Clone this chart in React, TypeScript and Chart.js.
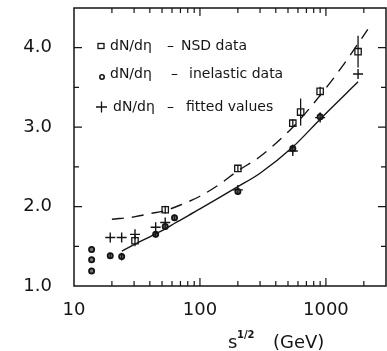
import React, { useEffect, useRef } from "react";
import { Chart, registerables } from "chart.js";

Chart.register(...registerables);

// NSD data (squares)
const nsdEnergy = [30.5, 53, 200, 546, 630, 900, 1800];
const nsdValue = [1.57, 1.96, 2.48, 3.05, 3.19, 3.45, 3.95];
const nsdError = [0.07, 0.05, 0.04, 0.05, 0.17, 0.06, 0.2];

// inelastic data (circles)
const inelEnergy = [13.8, 13.8, 13.8, 19.4, 23.9, 44.5, 53, 62.8, 200, 546, 900];
const inelValue = [1.46, 1.33, 1.19, 1.38, 1.37, 1.65, 1.75, 1.86, 2.19, 2.73, 3.13];
const inelError = [0, 0, 0, 0.04, 0.05, 0.04, 0.04, 0.04, 0.04, 0.05, 0.05];

// fitted values (plus signs)
const fitEnergy = [19.4, 23.9, 30.5, 44.5, 53, 200, 546, 900, 1800];
const fitValue = [1.61, 1.61, 1.65, 1.74, 1.8, 2.21, 2.7, 3.12, 3.67];

// solid curve
const solidEnergy = [24, 30, 40, 53, 63, 100, 200, 300, 546, 900, 1800];
const solidValue = [1.44, 1.52, 1.62, 1.72, 1.79, 1.97, 2.25, 2.42, 2.75, 3.1, 3.57];

// dashed curve
const dashedEnergy = [20, 30, 40, 53, 70, 100, 140, 200, 300, 546, 900, 1400, 2150];
const dashedValue = [1.84, 1.87, 1.91, 1.95, 2.02, 2.13, 2.27, 2.45, 2.63, 3.0, 3.4, 3.8, 4.23];

const xTickLabels = [10, 100, 1000];
const yTickLabels = [1, 2, 3, 4];

const legendMarks = ["square", "circle", "plus"];
const legendLeft = ["dN/d\u03b7", "dN/d\u03b7", "dN/d\u03b7"];
const legendRight = ["NSD data", "inelastic data", "fitted values"];

const xTitleMain = "s";
const xTitleSup = "1/2";
const xTitleUnit = "(GeV)";

const FONT = '"DejaVu Sans", "Liberation Sans", sans-serif';
const INK = "#151515";

const pairs = (xs: number[], ys: number[]) => xs.map((x, i) => ({ x, y: ys[i] }));

const isIntMultiple = (v: number) => {
  const p = Math.pow(10, Math.floor(Math.log10(v) + 1e-9));
  const r = v / p;
  return Math.abs(r - Math.round(r)) < 1e-6;
};

const framePlugin = {
  id: "frameTicks",
  afterDraw(chart: any) {
    const { ctx, chartArea: a, scales } = chart;
    const xs = scales.x;
    const ys = scales.y;
    ctx.save();
    ctx.strokeStyle = INK;
    ctx.lineWidth = 1.5;
    ctx.strokeRect(a.left, a.top, a.right - a.left, a.bottom - a.top);
    ctx.lineWidth = 1.2;
    ctx.beginPath();
    xs.ticks.forEach((t: any) => {
      const v = t.value;
      if (!isIntMultiple(v)) return;
      const px = xs.getPixelForValue(v);
      if (px <= a.left + 1 || px >= a.right - 1) return;
      const len = xTickLabels.includes(v) ? 8 : 5;
      ctx.moveTo(px, a.bottom);
      ctx.lineTo(px, a.bottom - len);
      ctx.moveTo(px, a.top);
      ctx.lineTo(px, a.top + len);
    });
    ys.ticks.forEach((t: any) => {
      const v = t.value;
      const py = ys.getPixelForValue(v);
      if (py <= a.top + 1 || py >= a.bottom - 1) return;
      const len = yTickLabels.includes(v) ? 8 : 5;
      ctx.moveTo(a.left, py);
      ctx.lineTo(a.left + len, py);
      ctx.moveTo(a.right, py);
      ctx.lineTo(a.right - len, py);
    });
    ctx.stroke();

    // legend
    const rowsY = [a.top + 38, a.top + 66, a.top + 99];
    const markX = a.left + 27;
    const textX = a.left + 36;
    const dashX = a.left + 93;
    const restX = [a.left + 107, a.left + 115, a.left + 112];
    ctx.fillStyle = INK;
    ctx.textBaseline = "middle";
    ctx.font = `14px ${FONT}`;
    legendMarks.forEach((m, i) => {
      const y = rowsY[i];
      ctx.lineWidth = 1.3;
      if (m === "square") {
        ctx.strokeRect(markX - 3, y - 2.5, 6, 5);
      } else if (m === "circle") {
        ctx.beginPath();
        ctx.arc(markX + 1, y + 3, 2.2, 0, Math.PI * 2);
        ctx.lineWidth = 1.6;
        ctx.stroke();
      } else {
        ctx.beginPath();
        ctx.moveTo(markX - 5, y);
        ctx.lineTo(markX + 6, y);
        ctx.moveTo(markX + 0.5, y - 5.5);
        ctx.lineTo(markX + 0.5, y + 5.5);
        ctx.stroke();
      }
      ctx.fillText(legendLeft[i], textX + (m === "plus" ? 3 : 0), y);
      ctx.fillText("\u2013", dashX + (m === "circle" ? 4 : 0), y);
      ctx.fillText(legendRight[i], restX[i], y);
    });

    // x title
    ctx.textBaseline = "alphabetic";
    ctx.font = `18px ${FONT}`;
    ctx.fillText(xTitleMain, 228, 348);
    ctx.font = `bold 10px ${FONT}`;
    ctx.fillText(xTitleSup, 237, 338);
    ctx.font = `18px ${FONT}`;
    ctx.fillText(xTitleUnit, 273, 348);
    ctx.restore();
  },
};

const errorBarPlugin = {
  id: "errorBars",
  afterDatasetsDraw(chart: any) {
    const { ctx, scales } = chart;
    ctx.save();
    ctx.strokeStyle = INK;
    ctx.lineWidth = 1.3;
    chart.data.datasets.forEach((ds: any) => {
      if (!ds.errs) return;
      ds.data.forEach((p: any, i: number) => {
        const e = ds.errs[i];
        if (!e) return;
        const px = scales.x.getPixelForValue(p.x);
        ctx.beginPath();
        ctx.moveTo(px, scales.y.getPixelForValue(p.y - e));
        ctx.lineTo(px, scales.y.getPixelForValue(p.y + e));
        ctx.stroke();
      });
    });
    ctx.restore();
  },
};

export default function App() {
  const ref = useRef<HTMLCanvasElement | null>(null);

  useEffect(() => {
    document.body.style.margin = "0";
    const canvas = ref.current;
    if (!canvas) return;
    const chart = new Chart(canvas, {
      type: "scatter",
      data: {
        datasets: [
          {
            data: pairs(dashedEnergy, dashedValue),
            showLine: true,
            borderColor: INK,
            borderWidth: 1.4,
            borderDash: [12, 8],
            pointRadius: 0,
            cubicInterpolationMode: "monotone",
          },
          {
            data: pairs(solidEnergy, solidValue),
            showLine: true,
            borderColor: INK,
            borderWidth: 1.4,
            pointRadius: 0,
            cubicInterpolationMode: "monotone",
          },
          {
            data: pairs(nsdEnergy, nsdValue),
            errs: nsdError,
            pointStyle: "rect",
            pointRadius: 4.5,
            borderColor: INK,
            backgroundColor: "rgba(255,255,255,0)",
            borderWidth: 1.3,
          } as any,
          {
            data: pairs(inelEnergy, inelValue),
            errs: inelError,
            pointStyle: "circle",
            pointRadius: 2.6,
            borderColor: INK,
            backgroundColor: "#777",
            borderWidth: 1.8,
          } as any,
          {
            data: pairs(fitEnergy, fitValue),
            pointStyle: "cross",
            pointRadius: 5,
            borderColor: INK,
            borderWidth: 1.4,
          },
        ],
      },
      options: {
        responsive: false,
        animation: false,
        devicePixelRatio: 1,
        layout: { autoPadding: false, padding: { top: 8, right: 1, left: 0, bottom: 0 } },
        plugins: { legend: { display: false }, tooltip: { enabled: false } },
        scales: {
          x: {
            type: "logarithmic",
            min: 10,
            max: 3000,
            grid: { display: false, drawTicks: false },
            border: { display: false },
            ticks: {
              autoSkip: false,
              maxRotation: 0,
              color: INK,
              padding: 14,
              font: { family: FONT, size: 18 },
              callback: (v: any) => (xTickLabels.includes(Number(v)) ? String(v) : ""),
            },
            afterFit: (s: any) => {
              s.height = 65;
              s.paddingLeft = 0;
              s.paddingRight = 0;
            },
          },
          y: {
            type: "linear",
            min: 1,
            max: 4.5,
            grid: { display: false, drawTicks: false },
            border: { display: false },
            ticks: {
              stepSize: 0.5,
              color: INK,
              padding: 22,
              font: { family: FONT, size: 18 },
              callback: (v: any) => (yTickLabels.includes(Number(v)) ? Number(v).toFixed(1) : ""),
            },
            afterFit: (s: any) => {
              s.width = 74;
              s.paddingTop = 0;
              s.paddingBottom = 0;
            },
          },
        },
      },
      plugins: [framePlugin, errorBarPlugin],
    } as any);
    return () => chart.destroy();
  }, []);

  return (
    <div style={{ position: "fixed", left: 0, top: 0, width: 387, height: 351, background: "#fff" }}>
      <canvas ref={ref} width={387} height={351} style={{ display: "block", width: 387, height: 351 }} />
    </div>
  );
}
